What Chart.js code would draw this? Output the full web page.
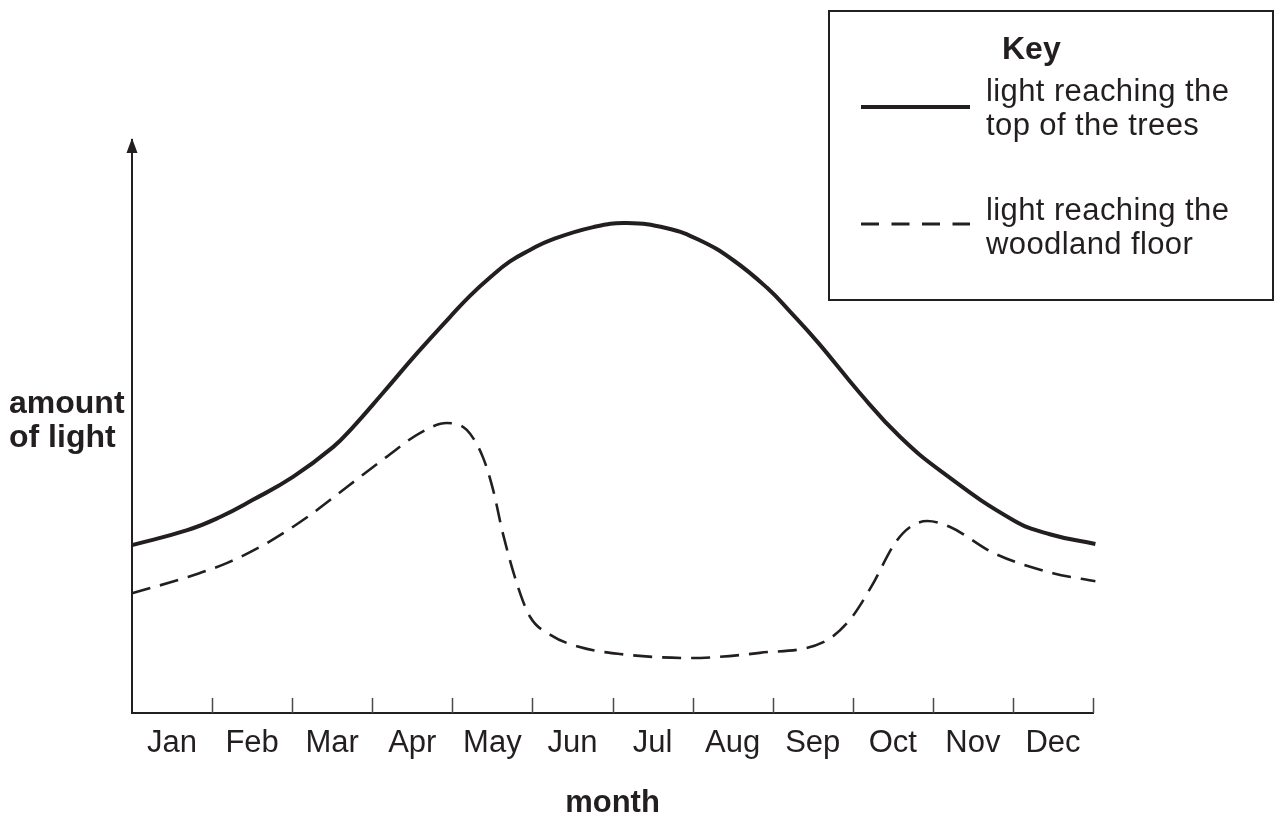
<!DOCTYPE html>
<html>
<head>
<meta charset="utf-8">
<script src="https://cdn.jsdelivr.net/npm/chart.js@4.4.1/dist/chart.umd.min.js"></script>
<style>
  html, body { margin: 0; padding: 0; background: #ffffff; }
  #wrap { width: 1280px; height: 816px; position: relative; }
</style>
</head>
<body>
<div id="wrap"><canvas id="c" width="1280" height="816"></canvas></div>
<script>
// ---- data (month position 0..12 along the axis, amount of light 0..100) ----
const months = ['Jan', 'Feb', 'Mar', 'Apr', 'May', 'Jun', 'Jul', 'Aug', 'Sep', 'Oct', 'Nov', 'Dec'];

const topMonth = [0.0, 0.69, 1.10, 1.51, 2.01, 2.51, 2.76, 3.13, 3.56, 3.97, 4.22, 4.47, 4.72, 4.97, 5.22, 5.76, 6.18, 6.68, 7.09, 7.50, 7.93, 8.22, 8.57, 9.09, 9.59, 10.13, 11.0, 11.46, 12.03];
const topLight = [29.3, 31.9, 34.2, 37.2, 41.2, 46.4, 49.9, 55.8, 62.8, 69.1, 72.8, 76.0, 78.8, 80.8, 82.5, 84.8, 85.5, 84.6, 82.5, 79.1, 74.2, 70.0, 64.6, 55.8, 48.2, 41.9, 33.7, 31.2, 29.5];

const floorMonth = [0.0, 0.69, 1.19, 1.69, 2.19, 2.68, 3.18, 3.60, 3.93, 4.18, 4.38, 4.51, 4.63, 4.82, 4.97, 5.23, 5.59, 6.09, 6.97, 7.84, 8.64, 8.96, 9.23, 9.53, 9.72, 9.93, 10.21, 10.76, 11.50, 12.03];
const floorLight = [20.9, 23.7, 26.2, 29.7, 34.2, 39.4, 44.7, 48.9, 50.6, 49.4, 44.7, 38.9, 31.4, 22.0, 16.8, 13.6, 11.5, 10.3, 9.6, 10.5, 12.4, 16.2, 22.0, 29.7, 32.5, 33.5, 32.5, 27.9, 24.4, 23.0];

const seriesNames = ['light reaching the top of the trees', 'light reaching the woodland floor'];

const INK = '#231f20';
const FONT = '"Liberation Sans", Arial, Helvetica, sans-serif';

const toPoints = (xs, ys) => xs.map((x, i) => ({ x: x, y: ys[i] }));

const decor = {
  id: 'decor',
  afterDraw(chart) {
    const ctx = chart.ctx;
    const xs = chart.scales.x;
    const ca = chart.chartArea;
    ctx.save();
    // tick marks (pointing up into the plot)
    ctx.strokeStyle = '#4a4a4a';
    ctx.lineWidth = 1.5;
    for (let i = 1; i <= 12; i++) {
      const px = Math.round(xs.getPixelForValue(i)) + 0.5;
      ctx.beginPath();
      ctx.moveTo(px, ca.bottom);
      ctx.lineTo(px, ca.bottom - 15);
      ctx.stroke();
    }
    // arrow head on y axis
    ctx.fillStyle = INK;
    ctx.beginPath();
    ctx.moveTo(ca.left, ca.top - 2);
    ctx.lineTo(ca.left - 5.5, ca.top + 13);
    ctx.lineTo(ca.left + 5.5, ca.top + 13);
    ctx.closePath();
    ctx.fill();
    // y axis title (horizontal)
    ctx.fillStyle = INK;
    ctx.font = 'bold 32px ' + FONT;
    ctx.textAlign = 'left';
    ctx.textBaseline = 'alphabetic';
    ctx.fillText('amount', 9, 413);
    ctx.fillText('of light', 9, 447);

    // key box
    ctx.strokeStyle = INK;
    ctx.lineWidth = 2;
    ctx.strokeRect(829, 11, 444, 289);
    ctx.font = 'bold 32px ' + FONT;
    ctx.fillText('Key', 1002, 59);
    // solid sample
    ctx.lineWidth = 4;
    ctx.setLineDash([]);
    ctx.beginPath();
    ctx.moveTo(861, 107);
    ctx.lineTo(970, 107);
    ctx.stroke();
    // dashed sample
    ctx.lineWidth = 3;
    ctx.setLineDash([18, 12.5]);
    ctx.beginPath();
    ctx.moveTo(861, 224);
    ctx.lineTo(970, 224);
    ctx.stroke();
    ctx.setLineDash([]);
    ctx.font = '31px ' + FONT;
    try { ctx.letterSpacing = '0.4px'; } catch (e) {}
    ctx.fillText('light reaching the', 986, 101);
    ctx.fillText('top of the trees', 986, 135);
    ctx.fillText('light reaching the', 986, 220);
    ctx.fillText('woodland floor', 986, 254);
    ctx.restore();
  }
};

new Chart(document.getElementById('c'), {
  type: 'line',
  data: {
    datasets: [
      {
        label: seriesNames[0],
        data: toPoints(topMonth, topLight),
        borderColor: INK,
        borderWidth: 4,
        pointRadius: 0,
        fill: false,
        tension: 0.45,
        clip: false
      },
      {
        label: seriesNames[1],
        data: toPoints(floorMonth, floorLight),
        borderColor: INK,
        borderWidth: 2.6,
        borderDash: [19, 10],
        pointRadius: 0,
        fill: false,
        cubicInterpolationMode: 'monotone',
        clip: false
      }
    ]
  },
  options: {
    responsive: false,
    animation: false,
    devicePixelRatio: 1,
    layout: { padding: { top: 140, right: 187, left: 0, bottom: 0 } },
    plugins: { legend: { display: false }, tooltip: { enabled: false }, title: { display: false } },
    scales: {
      x: {
        type: 'linear',
        min: 0,
        max: 12,
        afterBuildTicks: (s) => { s.ticks = months.map((m, i) => ({ value: i + 0.5 })); },
        afterFit: (s) => { s.height = 103; },
        ticks: {
          autoSkip: false,
          maxRotation: 0,
          padding: 4,
          color: INK,
          font: { family: FONT, size: 31 },
          callback: (v, i) => months[i]
        },
        grid: { display: false },
        border: { display: true, color: INK, width: 2 },
        title: {
          display: true,
          text: 'month',
          color: INK,
          font: { family: FONT, size: 31, weight: 'bold' },
          padding: { top: 0, bottom: -6 }
        }
      },
      y: {
        min: 0,
        max: 100,
        afterFit: (s) => { s.width = 132; },
        ticks: { display: false },
        grid: { display: false },
        border: { display: true, color: INK, width: 2 }
      }
    }
  },
  plugins: [decor]
});
</script>
</body>
</html>
